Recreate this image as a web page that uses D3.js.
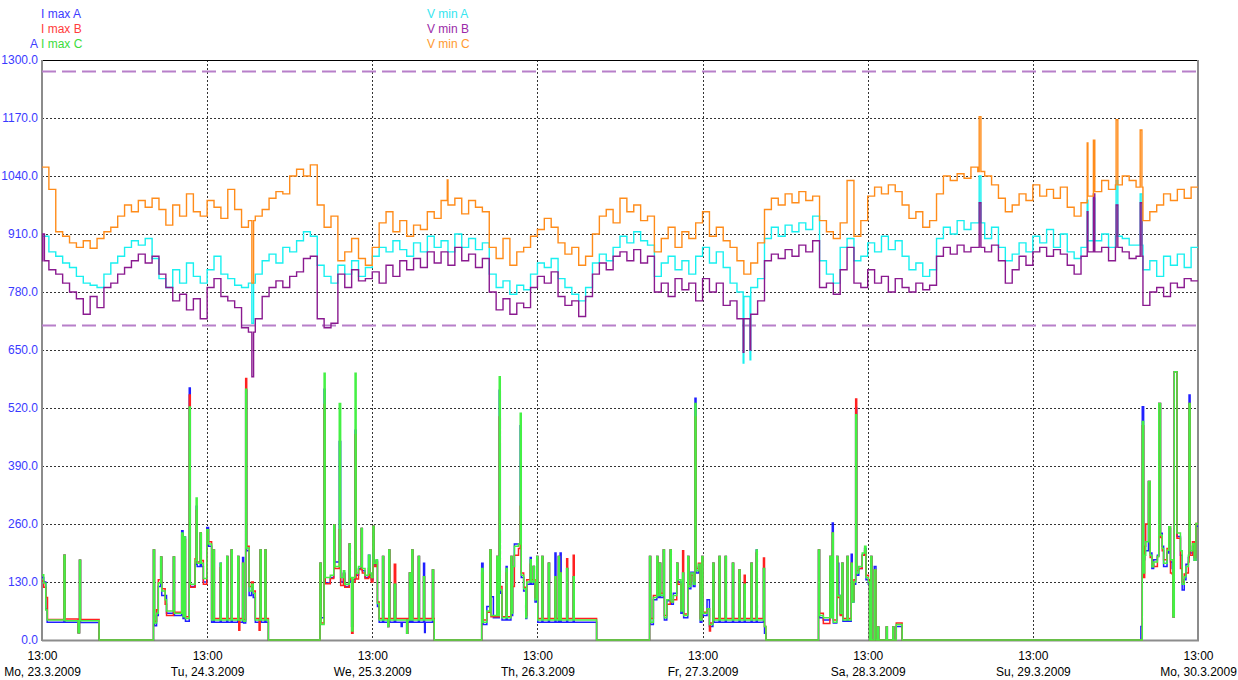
<!DOCTYPE html>
<html>
<head>
<meta charset="utf-8">
<script src="https://cdn.jsdelivr.net/npm/d3@7"></script>
<style>
  body { margin: 0; background: #fff; }
  svg text { font-family: Arial, "Liberation Sans", sans-serif; font-size: 12px; }
</style>
</head>
<body>
<svg id="chart" width="1238" height="680"></svg>
<script>
// ---- axis labels ----
const dayLabels = ["Mo, 23.3.2009", "Tu, 24.3.2009", "We, 25.3.2009", "Th, 26.3.2009",
                   "Fr, 27.3.2009", "Sa, 28.3.2009", "Su, 29.3.2009", "Mo, 30.3.2009"];
const yTicks = [0, 130, 260, 390, 520, 650, 780, 910, 1040, 1170, 1300];
const limitLines = [1274, 705];

// ---- minimum voltages, one value per hour from Mo 23.3. 13:00 ----
const vMinA = [
  905,870,860,845,835,815,800,795,790,820,845,860,880,895,885,900,855,810,790,830,800,845,815,800,
  830,860,820,810,795,790,800,820,850,865,845,880,870,895,915,905,840,815,800,840,820,850,815,835,
  860,880,870,895,875,860,890,870,905,880,895,870,910,880,900,875,890,820,790,805,775,795,785,820,
  845,835,855,810,790,775,760,790,845,865,850,880,905,890,915,895,885,815,845,860,830,850,820,860,
  880,845,870,835,800,780,770,790,810,900,925,905,930,915,935,920,950,850,820,800,880,900,850,860,
  890,870,905,875,895,860,830,845,815,830,900,925,910,940,920,935,935,900,925,880,850,865,890,870,
  905,890,920,880,910,870,855,880,895,895,910,880,905,900,885,885,830,850,815,860,840,865,835,880
];
const vMinB = [
  850,830,820,800,780,765,730,770,745,790,800,820,835,850,865,845,860,820,790,760,775,740,765,720,
  790,810,770,760,745,700,690,720,770,790,805,790,815,825,855,860,720,700,710,820,790,830,805,810,
  825,800,840,815,850,830,855,835,870,845,870,840,880,850,865,835,855,780,740,765,730,755,745,790,
  815,800,825,770,750,760,725,770,820,845,830,860,870,850,875,845,860,780,800,770,810,785,800,760,
  810,780,800,750,760,720,720,730,760,850,865,855,875,860,885,870,895,790,800,775,830,880,800,790,
  830,800,815,780,810,790,780,800,785,795,860,880,865,885,870,880,880,870,885,850,800,830,860,840,
  870,880,860,875,865,840,820,860,870,870,880,850,880,870,855,860,750,780,790,770,800,790,810,805
];
const vMinC = [
  1060,1010,915,905,890,880,895,878,900,915,925,950,975,960,985,970,990,965,930,975,950,1000,960,950,
  985,970,945,1010,965,925,940,950,965,990,1005,1000,1040,1055,1040,1065,975,925,950,850,870,900,855,840,
  880,935,960,915,940,905,930,920,960,945,985,975,990,955,985,970,960,880,855,900,840,870,880,905,
  920,945,925,890,865,880,840,860,910,950,965,935,990,960,975,940,950,870,900,925,880,915,900,935,
  960,905,925,895,880,850,820,845,890,965,990,975,1000,980,1005,985,995,940,915,900,935,1030,905,940,
  995,1015,1000,1020,1005,975,945,960,925,940,1000,1040,1030,1045,1035,1060,1050,1040,1020,990,960,975,1000,985,
  1020,995,1010,990,1015,970,950,980,995,1005,1030,1010,1020,1040,1030,1015,940,960,975,1000,985,1010,990,1015
];
// short peaks and dips [hour, value]
const vMinAPeaks = [[30.5,710],[101.9,621],[102.9,628],[136.2,1040],[151.9,986],[152.8,990],[156.1,1030],[159.6,1000]];
const vMinBPeaks = [[0.1,910],[30.5,590],[101.9,645],[102.9,650],[136.2,980],[151.9,960],[152.8,1000],[156.1,975],[159.6,980]];
const vMinCPeaks = [[30.5,800],[58.9,1031],[136.2,1173],[151.9,1114],[152.8,1120],[156.1,1166],[159.6,1143]];

// ---- maximum currents, change points [hour, value] ----
const iMaxA = [
  [0,140],[0.25,130],[0.55,70],[0.75,40],[3.2,190],[3.35,40],[5.25,16],[5.45,179],[5.6,39],[8.3,0],
  [16.2,202],[16.35,32],[16.65,55],[16.9,120],[17.25,186],[17.4,100],[17.9,100],[18.1,60],[19.1,186],[19.25,55],
  [20.3,245],[20.5,48],[20.65,231],[20.85,42],[21.4,565],[21.55,120],[22.25,170],[22.4,300],[22.55,165],[23.0,240],
  [23.15,165],[23.45,130],[23.95,252],[24.2,210],[24.65,40],[24.9,202],[25.05,40],[25.9,172],[26.05,40],[26.85,187],
  [27.0,40],[27.5,202],[27.65,40],[28.45,187],[28.6,40],[29.15,185],[29.3,38],[29.6,560],[29.75,200],[30.1,100],
  [30.45,118],[30.7,95],[31.0,40],[31.7,202],[31.85,40],[32.4,202],[32.55,40],[32.9,0],
  [40.4,172],[40.55,50],[41.0,562],[41.15,128],[41.9,140],[42.4,258],[42.55,175],[43.2,445],[43.4,130],[43.8,150],
  [44.0,120],[44.65,215],[44.8,130],[45.0,30],[45.2,135],[45.5,470],[45.65,145],[46.0,160],[46.4,250],[46.55,155],
  [46.95,140],[47.45,190],[47.65,145],[47.85,135],[48.1,255],[48.25,168],[48.55,178],[48.75,75],[49.0,40],[49.5,187],
  [49.65,40],[50.25,30],[50.4,202],[50.55,40],[51.2,125],[51.4,40],[52.2,30],[52.35,40],[53.0,15],[53.15,40],
  [53.4,150],[53.55,40],[53.75,202],[53.9,40],[54.7,187],[54.85,40],[55.45,172],[55.6,17],[55.7,40],[56.75,157],
  [56.9,40],[57.0,0],
  [63.9,172],[64.1,35],[64.65,75],[65.1,202],[65.25,97],[65.6,50],[66.1,187],[66.25,50],[66.45,560],[66.6,105],
  [66.85,45],[67.45,165],[67.6,45],[68.15,187],[68.3,55],[68.4,165],[68.65,215],[69.25,215],[69.5,480],[69.65,140],
  [70.0,110],[70.3,48],[70.45,125],[70.95,185],[71.1,125],[71.4,165],[71.55,125],[71.65,85],[71.9,187],[72.05,40],
  [72.65,187],[72.8,40],[73.6,172],[73.75,40],[74.55,195],[74.7,40],[75.05,187],[75.2,40],[75.3,195],[75.45,40],
  [76.25,160],[76.4,40],[77.2,142],[77.35,40],[80.6,0],
  [88.3,187],[88.45,35],[88.85,90],[89.35,187],[89.5,95],[89.75,172],[89.9,95],[90.3,202],[90.45,45],[90.8,88],
  [91.3,202],[91.45,80],[91.75,105],[92.25,172],[92.4,130],[92.85,60],[93.1,150],[93.25,50],[93.85,187],[94.0,115],
  [94.3,152],[94.65,120],[94.9,542],[95.05,150],[95.4,165],[95.65,40],[95.9,187],[96.05,55],[96.65,90],[97.0,30],
  [97.5,172],[97.65,40],[98.4,187],[98.55,40],[99.3,187],[99.45,40],[100.35,172],[100.5,40],[101.3,157],[101.45,40],
  [102.05,125],[102.2,40],[103.05,172],[103.2,40],[103.8,202],[103.95,40],[104.85,160],[105.0,15],[105.2,0],
  [112.85,202],[113.0,50],[113.55,45],[114.5,187],[114.65,97],[114.85,262],[115.0,38],[115.5,187],[115.65,172],[115.8,100],
  [116.0,58],[116.25,172],[116.4,42],[117.0,187],[117.15,42],[117.6,192],[117.75,85],[118.0,125],[118.25,520],[118.4,145],
  [118.7,160],[119.2,190],[119.55,205],[119.75,135],[120.1,125],[120.25,0],[120.45,187],[120.6,0],[120.95,165],[121.2,0],
  [121.45,29],[121.6,0],[122.7,29],[122.85,0],[123.65,29],[123.8,0],[124.15,30],[125.0,0],
  [159.7,30],[159.9,523],[160.1,180],[160.25,200],[160.8,355],[161.05,195],[161.3,160],[161.55,180],[162.1,190],[162.3,530],
  [162.55,239],[162.8,210],[163.0,165],[163.5,195],[163.75,250],[164.0,175],[164.25,160],[164.35,52],[164.55,601],[164.95,232],
  [165.45,190],[165.7,112],[166.0,135],[166.25,170],[166.6,185],[166.7,549],[166.85,195],[167.2,210],[167.45,179],[167.7,255]
];
const iMaxB = [
  [0,132],[0.25,118],[0.55,95],[0.8,46],[3.2,190],[3.35,47],[5.25,16],[5.45,179],[5.6,46],[8.3,0],
  [16.2,202],[16.35,42],[16.65,68],[16.9,135],[17.25,186],[17.4,115],[17.9,80],[18.1,55],[19.1,186],[19.25,62],
  [20.3,235],[20.5,58],[20.65,225],[20.85,52],[21.4,549],[21.55,118],[22.25,182],[22.4,290],[22.55,175],[23.0,240],
  [23.15,178],[23.45,125],[23.95,247],[24.2,220],[24.65,48],[24.9,202],[25.05,48],[25.9,162],[26.05,48],[26.85,187],
  [27.0,48],[27.5,202],[27.65,48],[28.45,187],[28.6,22],[28.75,48],[29.15,172],[29.3,46],[29.6,586],[29.75,210],
  [30.1,120],[30.45,130],[30.7,110],[31.0,48],[31.55,22],[31.7,202],[31.85,48],[32.4,202],[32.55,48],[32.9,0],
  [40.4,172],[40.55,38],[41.0,528],[41.15,126],[41.9,138],[42.4,258],[42.55,160],[43.2,247],[43.4,122],[43.8,148],
  [44.0,118],[44.65,215],[44.8,135],[45.0,15],[45.2,130],[45.5,460],[45.65,137],[46.0,158],[46.4,250],[46.55,150],
  [46.95,138],[47.45,160],[47.65,140],[47.85,130],[48.1,255],[48.25,165],[48.55,175],[48.75,85],[49.0,48],[49.5,187],
  [49.65,48],[50.25,30],[50.4,202],[50.55,48],[51.2,170],[51.4,48],[53.0,15],[53.15,48],[53.4,150],[53.55,48],
  [53.75,202],[53.9,48],[54.7,187],[54.85,48],[55.45,142],[55.6,48],[56.75,157],[56.9,48],[57.0,0],
  [63.9,150],[64.1,45],[64.65,62],[65.1,202],[65.25,52],[66.1,187],[66.25,52],[66.45,500],[66.6,120],[66.85,52],
  [67.45,150],[67.6,52],[68.15,187],[68.3,62],[68.4,120],[68.65,190],[69.25,205],[69.5,300],[69.65,150],[70.0,118],
  [70.3,55],[70.45,135],[70.95,170],[71.1,135],[71.4,165],[71.55,135],[71.65,95],[71.9,187],[72.05,48],[72.65,187],
  [72.8,48],[73.6,172],[73.75,48],[74.55,142],[74.7,48],[75.05,187],[75.2,48],[75.3,150],[75.45,48],[76.25,182],
  [76.4,48],[77.2,190],[77.35,48],[80.6,0],
  [88.3,187],[88.45,48],[88.85,100],[89.35,187],[89.5,105],[89.75,172],[89.9,105],[90.3,202],[90.45,55],[90.8,80],
  [91.3,202],[91.45,85],[91.75,90],[92.25,172],[92.4,125],[92.85,70],[93.1,200],[93.25,58],[93.85,187],[94.0,125],
  [94.3,145],[94.65,132],[94.9,500],[95.05,160],[95.4,172],[95.65,48],[95.9,187],[96.05,62],[96.65,70],[97.0,20],
  [97.15,38],[97.5,172],[97.65,48],[98.4,187],[98.55,48],[99.3,187],[99.45,48],[100.35,172],[100.5,48],[101.3,157],
  [101.45,48],[102.05,145],[102.2,48],[103.05,172],[103.2,48],[103.8,195],[103.95,48],[104.85,184],[105.0,30],[105.2,0],
  [112.85,202],[113.0,60],[113.55,37],[114.5,187],[114.65,52],[114.85,240],[115.0,45],[115.5,187],[115.65,95],[116.0,55],
  [116.25,172],[116.4,48],[117.0,187],[117.15,48],[117.6,172],[117.75,90],[118.0,135],[118.25,540],[118.4,155],[118.7,160],
  [119.2,190],[119.55,200],[119.75,145],[120.1,135],[120.25,0],[120.45,187],[120.6,0],[120.95,157],[121.2,0],[121.45,29],
  [121.6,0],[122.7,29],[122.85,0],[123.65,29],[123.8,0],[124.15,38],[125.0,0],
  [159.9,480],[160.1,140],[160.25,210],[160.4,260],[160.8,355],[161.05,185],[161.3,170],[161.55,165],[162.1,187],[162.3,530],
  [162.55,230],[162.8,200],[163.0,180],[163.5,205],[163.75,254],[164.0,150],[164.25,148],[164.35,52],[164.55,601],[164.95,228],
  [165.45,160],[165.7,130],[166.0,148],[166.25,150],[166.6,175],[166.7,530],[166.85,190],[167.2,220],[167.45,185],[167.7,261]
];
const iMaxC = [
  [0,146],[0.25,128],[0.55,67],[0.75,45],[3.2,190],[3.35,43],[5.25,16],[5.45,179],[5.6,43],[8.3,0],
  [16.2,202],[16.35,38],[16.65,60],[16.9,128],[17.25,186],[17.4,110],[17.9,90],[18.1,65],[19.1,186],[19.25,60],
  [20.3,240],[20.5,52],[20.65,231],[20.85,48],[21.4,522],[21.55,125],[22.25,179],[22.4,318],[22.55,172],[23.0,240],
  [23.15,172],[23.45,138],[23.95,247],[24.2,215],[24.65,45],[24.9,202],[25.05,45],[25.9,172],[26.05,45],[26.85,187],
  [27.0,45],[27.5,202],[27.65,45],[28.45,187],[28.6,45],[29.15,172],[29.3,42],[29.6,562],[29.75,206],[30.1,110],
  [30.45,125],[30.7,105],[31.0,45],[31.7,202],[31.85,45],[32.4,202],[32.55,45],[32.9,0],
  [40.4,172],[40.55,35],[41.0,598],[41.15,140],[41.9,145],[42.4,258],[42.55,165],[43.2,530],[43.4,140],[43.8,155],
  [44.0,125],[44.65,215],[44.8,140],[45.0,20],[45.2,140],[45.5,598],[45.65,150],[46.0,165],[46.4,250],[46.55,160],
  [46.95,145],[47.45,190],[47.65,150],[47.85,140],[48.1,255],[48.25,172],[48.55,180],[48.75,82],[49.0,45],[49.5,187],
  [49.65,45],[50.25,30],[50.4,202],[50.55,45],[51.2,125],[51.4,45],[53.0,15],[53.15,45],[53.4,150],[53.55,45],
  [53.75,202],[53.9,45],[54.7,187],[54.85,45],[55.45,142],[55.6,45],[56.75,157],[56.9,45],[57.0,0],
  [63.9,160],[64.1,40],[64.65,65],[65.1,202],[65.25,55],[66.1,187],[66.25,55],[66.45,590],[66.6,112],[66.85,50],
  [67.45,160],[67.6,50],[68.15,187],[68.3,60],[68.4,165],[68.65,210],[69.25,215],[69.5,508],[69.65,145],[70.0,115],
  [70.3,50],[70.45,130],[70.95,180],[71.1,130],[71.4,165],[71.55,130],[71.65,90],[71.9,187],[72.05,45],[72.65,187],
  [72.8,45],[73.6,172],[73.75,45],[74.55,142],[74.7,45],[75.05,187],[75.2,45],[75.3,150],[75.45,45],[76.25,160],
  [76.4,45],[77.2,142],[77.35,45],[80.6,0],
  [88.3,187],[88.45,40],[88.85,95],[89.35,187],[89.5,100],[89.75,172],[89.9,100],[90.3,202],[90.45,50],[90.8,90],
  [91.3,202],[91.45,85],[91.75,100],[92.25,172],[92.4,135],[92.85,65],[93.1,150],[93.25,55],[93.85,187],[94.0,120],
  [94.3,150],[94.65,125],[94.9,530],[95.05,155],[95.4,170],[95.65,45],[95.9,187],[96.05,60],[96.65,70],[97.0,35],
  [97.5,172],[97.65,45],[98.4,187],[98.55,45],[99.3,187],[99.45,45],[100.35,172],[100.5,45],[101.3,157],[101.45,45],
  [102.05,125],[102.2,45],[103.05,172],[103.2,45],[103.8,202],[103.95,45],[104.85,160],[105.0,30],[105.2,0],
  [112.85,202],[113.0,55],[113.55,50],[114.5,187],[114.65,50],[114.85,240],[115.0,40],[115.5,187],[115.65,100],[116.0,60],
  [116.25,172],[116.4,45],[117.0,187],[117.15,45],[117.6,172],[117.75,85],[118.0,130],[118.25,505],[118.4,150],[118.7,165],
  [119.2,195],[119.55,210],[119.75,140],[120.1,130],[120.25,0],[120.45,187],[120.6,0],[120.95,157],[121.2,0],[121.45,29],
  [121.6,0],[122.7,29],[122.85,0],[123.65,29],[123.8,0],[124.15,35],[125.0,0],
  [159.9,490],[160.1,150],[160.25,190],[160.4,220],[160.8,355],[161.05,190],[161.3,164],[161.55,175],[162.1,187],[162.3,530],
  [162.55,235],[162.8,205],[163.0,172],[163.5,201],[163.75,254],[164.0,180],[164.35,52],[164.55,601],[164.95,240],[165.45,200],
  [165.7,125],[166.0,142],[166.25,165],[166.6,190],[166.7,530],[166.85,200],[167.2,216],[167.45,179],[167.7,261]
];

// ---- geometry ----
const margin = { left: 42, right: 1198, top: 60, bottom: 640 };
const totalHours = 168;
const start = new Date(2009, 2, 23, 13, 0);
const at = h => new Date(start.getTime() + h * 3600e3);

const x = d3.scaleTime().domain([start, at(totalHours)]).range([margin.left, margin.right]);
const y = d3.scaleLinear().domain([0, 1300]).range([margin.bottom, margin.top]);

const svg = d3.select("#chart");
const font = "Arial, 'Liberation Sans', sans-serif";

svg.append("defs").append("clipPath").attr("id", "plot")
  .append("rect").attr("x", margin.left).attr("y", margin.top - 2)
  .attr("width", margin.right - margin.left).attr("height", margin.bottom - margin.top + 3);

// grid
const dayTicks = d3.range(0, totalHours + 1, 24).map(at);
svg.append("g").selectAll("line").data(dayTicks.slice(1, -1)).join("line")
  .attr("x1", d => Math.round(x(d)) + 0.5).attr("x2", d => Math.round(x(d)) + 0.5)
  .attr("y1", margin.top).attr("y2", margin.bottom)
  .attr("stroke", "#333").attr("stroke-dasharray", "2,2");
svg.append("g").selectAll("line").data(yTicks.slice(1, -1)).join("line")
  .attr("x1", margin.left).attr("x2", margin.right)
  .attr("y1", d => Math.round(y(d)) + 0.5).attr("y2", d => Math.round(y(d)) + 0.5)
  .attr("stroke", "#333").attr("stroke-dasharray", "2,2");

// frame
svg.append("line").attr("x1", margin.left).attr("x2", margin.right)
  .attr("y1", margin.top + 0.5).attr("y2", margin.top + 0.5).attr("stroke", "#000");
svg.append("line").attr("x1", margin.left).attr("x2", margin.left)
  .attr("y1", margin.top).attr("y2", margin.bottom + 1).attr("stroke", "#8c8c8c").attr("stroke-width", 2);
svg.append("line").attr("x1", margin.right).attr("x2", margin.right)
  .attr("y1", margin.top).attr("y2", margin.bottom + 1).attr("stroke", "#8c8c8c").attr("stroke-width", 2);
svg.append("line").attr("x1", margin.left).attr("x2", margin.right + 1)
  .attr("y1", margin.bottom + 0.5).attr("y2", margin.bottom + 0.5).attr("stroke", "#8c8c8c").attr("stroke-width", 2);

// limit lines
svg.append("g").selectAll("line").data(limitLines).join("line")
  .attr("x1", margin.left).attr("x2", margin.right)
  .attr("y1", d => y(d)).attr("y2", d => y(d))
  .attr("stroke", "#b77fc9").attr("stroke-width", 2).attr("stroke-dasharray", "14,6");

// axes
const yAxis = svg.append("g").attr("transform", `translate(${margin.left},0)`)
  .call(d3.axisLeft(y).tickValues(yTicks).tickSize(0).tickPadding(4).tickFormat(d3.format(".1f")));
yAxis.select(".domain").remove();
yAxis.selectAll("text").attr("fill", "#3a3aff").style("font-size", "12px").style("font-family", font);

const xAxis = svg.append("g").attr("transform", `translate(0,${margin.bottom})`)
  .call(d3.axisBottom(x).tickValues(dayTicks).tickSize(0).tickPadding(11).tickFormat(d3.timeFormat("%H:%M")));
xAxis.select(".domain").remove();
xAxis.selectAll("text").attr("fill", "#000").style("font-size", "12px").style("font-family", font);
xAxis.selectAll(".tick").append("text")
  .attr("y", 27).attr("dy", "0.71em").attr("fill", "#000")
  .style("font-size", "12px").style("font-family", font)
  .text((d, i) => dayLabels[i]);

// series helpers
const line = d3.line().x(d => x(at(d[0]))).y(d => y(d[1])).curve(d3.curveStepAfter);
function hourly(values, peaks) {
  const pts = values.map((v, i) => [i, v]);
  peaks.forEach(([h, v]) => {
    pts.push([h, v]);
    const back = h + 0.25;
    pts.push([back, values[Math.min(values.length - 1, Math.floor(back))]]);
  });
  pts.sort((a, b) => a[0] - b[0]);
  pts.push([totalHours, values[values.length - 1]]);
  return pts;
}
function steps(points) {
  const pts = points[0][0] > 0 ? [[0, 0], ...points] : points.slice();
  pts.push([totalHours, pts[pts.length - 1][1]]);
  return pts;
}

const plot = svg.append("g").attr("clip-path", "url(#plot)");
const series = [
  { data: hourly(vMinA, vMinAPeaks), color: "#19f0f0", w: 1.4 },
  { data: hourly(vMinB, vMinBPeaks), color: "#8a1a90", w: 1.4 },
  { data: hourly(vMinC, vMinCPeaks), color: "#ff8c1a", w: 1.4 },
  { data: steps(iMaxA), color: "#2020ff", w: 1.5 },
  { data: steps(iMaxB), color: "#ff2020", w: 1.5 },
  { data: steps(iMaxC), color: "#44f044", w: 1.5 }
];
plot.selectAll("path").data(series).join("path")
  .attr("d", d => line(d.data))
  .attr("fill", "none").attr("stroke", d => d.color)
  .attr("stroke-width", d => d.w).attr("stroke-linejoin", "miter");

// legend
const legendLeft = [
  { text: "I max A", color: "#3c3cff" },
  { text: "I max B", color: "#ff3c3c" },
  { text: "I max C", color: "#3cdc3c" }
];
const legendRight = [
  { text: "V min A", color: "#35e6f0" },
  { text: "V min B", color: "#9a2aa8" },
  { text: "V min C", color: "#ff9a30" }
];
svg.append("g").selectAll("text").data(legendLeft).join("text")
  .attr("x", 41).attr("y", (d, i) => 18 + i * 15).attr("fill", d => d.color).text(d => d.text);
svg.append("g").selectAll("text").data(legendRight).join("text")
  .attr("x", 427).attr("y", (d, i) => 18 + i * 15).attr("fill", d => d.color).text(d => d.text);
svg.append("text").attr("x", 38).attr("y", 48).attr("text-anchor", "end")
  .attr("fill", "#3c3cff").text("A");
</script>
</body>
</html>
